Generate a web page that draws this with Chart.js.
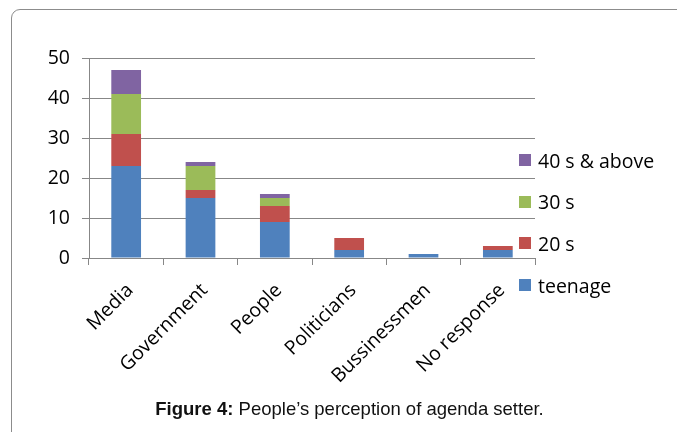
<!DOCTYPE html>
<html>
<head>
<meta charset="utf-8">
<script src="https://cdn.jsdelivr.net/npm/chart.js@4/dist/chart.umd.min.js"></script>
<style>
  html, body { margin: 0; padding: 0; background: #fff; }
  #wrap { position: relative; width: 677px; height: 432px; overflow: hidden; }
  #frame {
    position: absolute; left: 11px; top: 9px; width: 700px; height: 460px;
    border: 1px solid #8c8c8c; border-top-left-radius: 9px; box-sizing: border-box;
  }
  #chart { position: absolute; left: 0; top: 0; }
  #legend { position: absolute; left: 519px; top: 0; font-family: "Open Sans", sans-serif; font-size: 19.5px; color: #000; }
  .item { position: absolute; left: 0; white-space: nowrap; display: flex; align-items: center; height: 24px; }
  .item span.box { width: 12px; height: 12px; margin-right: 7px; display: inline-block; }
  #caption {
    position: absolute; left: 11px; width: 677px; top: 398px; text-align: center;
    font-family: "Liberation Sans", Arial, sans-serif; font-size: 18.5px; color: #111;
  }
</style>
</head>
<body>
<div id="wrap">
  <div id="frame"></div>
  <canvas id="chart" width="677" height="432"></canvas>
  <div id="legend"></div>
  <div id="caption"><b>Figure 4:</b> People’s perception of agenda setter.</div>
</div>
<script>
const categories = ["Media", "Government", "People", "Politicians", "Bussinessmen", "No response"];
const teenage = [23, 15, 9, 2, 1, 2];
const twenties = [8, 2, 4, 3, 0, 1];
const thirties = [10, 6, 2, 0, 0, 0];
const fortiesUp = [6, 1, 1, 0, 0, 0];
const seriesNames = ["teenage", "20 s", "30 s", "40 s & above"];
const seriesColors = ["#4F81BD", "#C0504D", "#9BBB59", "#8064A2"];
const yTicks = [0, 10, 20, 30, 40, 50];

const tickFont = { family: "Open Sans", size: 19.5 };
const greyLine = "#878787";

let chart = new Chart(document.querySelector('#chart'), {
    type: 'bar',
    data: {
        labels: categories,
        datasets: [teenage, twenties, thirties, fortiesUp].map((d, i) => ({
            label: seriesNames[i],
            data: d,
            backgroundColor: seriesColors[i],
            borderWidth: 0,
            barPercentage: 0.4,
            categoryPercentage: 1
        }))
    },
    options: {
        responsive: false,
        animation: false,
        layout: { padding: { left: 0, top: 58, right: 142, bottom: 0 } },
        plugins: { legend: { display: false }, tooltip: { enabled: false } },
        scales: {
            x: {
                stacked: true,
                grid: { offset: true, drawOnChartArea: false, drawTicks: true, tickLength: 7, color: greyLine },
                border: { display: false },
                ticks: { color: '#000', font: tickFont, minRotation: 45, maxRotation: 45, padding: 14, labelOffset: 4 },
                afterFit: s => { s.height = 174; }
            },
            y: {
                stacked: true,
                min: yTicks[0],
                max: yTicks[yTicks.length - 1],
                afterBuildTicks: s => { s.ticks = yTicks.map(v => ({ value: v })); },
                grid: { color: greyLine, tickLength: 7 },
                border: { display: true, color: greyLine },
                ticks: { color: '#000', font: tickFont, padding: 12 },
                afterFit: s => { s.width = 89; }
            }
        }
    }
});

// legend, listed top-down from the last series
const legend = document.querySelector('#legend');
chart.data.datasets.slice().reverse().forEach((ds, i) => {
    const row = document.createElement('div');
    row.className = 'item';
    row.style.top = (148 + i * 41.7) + 'px';
    row.innerHTML = '<span class="box" style="background:' + ds.backgroundColor + '"></span>' + ds.label;
    legend.appendChild(row);
});
</script>
</body>
</html>
